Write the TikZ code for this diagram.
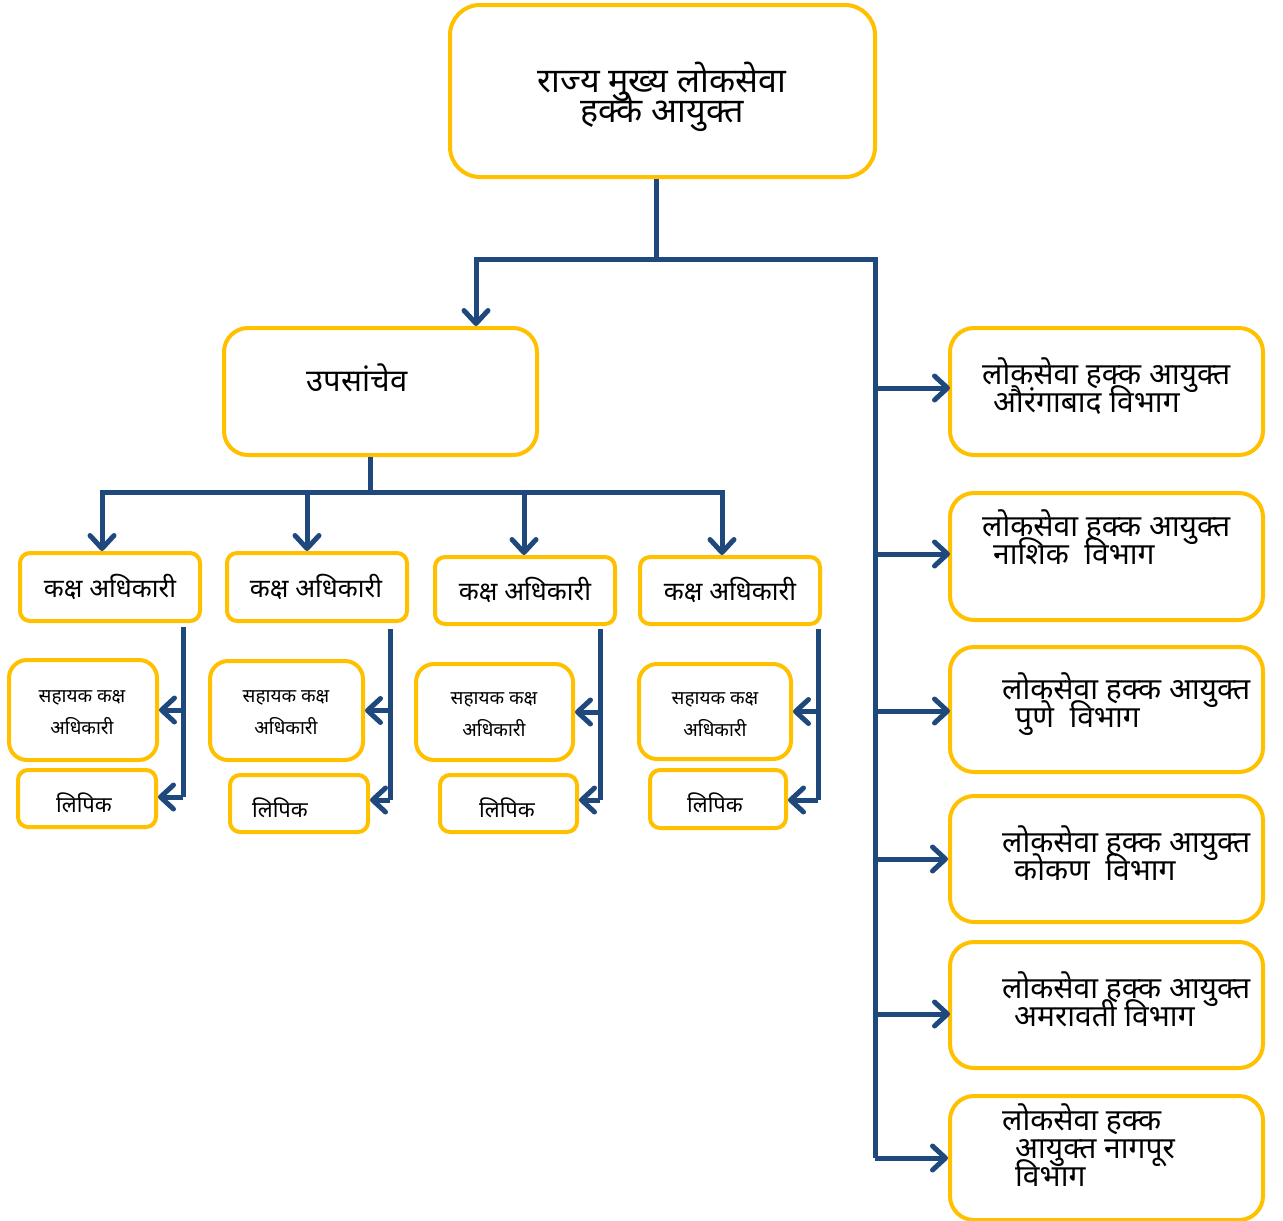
\documentclass[tikz,border=0pt]{standalone}
\usepackage{fontspec}
\usetikzlibrary{arrows.meta,fit}
\newfontfamily\dev[Script=Devanagari]{Noto Sans}
\definecolor{lnblue}{HTML}{1F497D}
\definecolor{boxy}{HTML}{FFC000}
\newcommand\devfs[2]{\dev\fontsize{#1}{#2}\selectfont\lineskiplimit=-100pt\relax}
\tikzset{
  bx/.style={draw=boxy, line width=4pt, rounded corners=#1, fill=white, inner sep=0pt},
  bx/.default=22pt,
  ln/.style={draw=lnblue, line width=5pt},
  arr/.style={ln, -{Straight Barb[length=13pt,width=24pt,round]}},
  txt/.style={inner sep=0pt, align=center, text=black},
  huge/.style={font=\devfs{34}{30}},
  big/.style={font=\devfs{30}{28}},
  ups/.style={font=\devfs{31}{30}},
  mid/.style={font=\devfs{26}{28}},
  sm/.style={font=\devfs{19}{32}},
  lp/.style={font=\devfs{22}{24}},
}
\begin{document}
\begin{tikzpicture}[x=1pt,y=-1pt]
\useasboundingbox (0,0) rectangle (1283,1221);
% boxes
\node[bx=30pt, fit={(450,5) (875,177)}] (top) {};
\node[bx=24pt, fit={(224,328) (537,455)}] (ups) {};
\node[bx=10pt, fit={(20,553) (200,621)}] (k1) {};
\node[bx=10pt, fit={(227,553) (407,621)}] (k2) {};
\node[bx=10pt, fit={(435,557) (615,624)}] (k3) {};
\node[bx=10pt, fit={(640,557) (820,624)}] (k4) {};
\node[bx=18pt, fit={(9,660) (157,760)}] (s1) {};
\node[bx=18pt, fit={(210,661) (363,760)}] (s2) {};
\node[bx=18pt, fit={(416,664) (573,760)}] (s3) {};
\node[bx=18pt, fit={(639,664) (791,759)}] (s4) {};
\node[bx=10pt, fit={(18,770) (156,827)}] (l1) {};
\node[bx=10pt, fit={(230,775) (368,832)}] (l2) {};
\node[bx=10pt, fit={(440,775) (577,832)}] (l3) {};
\node[bx=10pt, fit={(650,770) (786,828)}] (l4) {};
\node[bx=24pt, fit={(950,328) (1263,455)}] (r1) {};
\node[bx=24pt, fit={(950,493) (1263,620)}] (r2) {};
\node[bx=24pt, fit={(950,647) (1263,772)}] (r3) {};
\node[bx=24pt, fit={(950,796) (1263,922)}] (r4) {};
\node[bx=24pt, fit={(950,942) (1263,1068)}] (r5) {};
\node[bx=24pt, fit={(950,1096) (1263,1220)}] (r6) {};
% texts
\node[txt,huge] (topT) at (662,97) {राज्य मुख्य लोकसेवा\\हक्के आयुक्त};
\node[txt,ups] (upsT) at (357,378) {उपसांचेव};
\node[txt,mid] (k1T) at (110,587) {कक्ष अधिकारी};
\node[txt,mid] (k2T) at (316,587) {कक्ष अधिकारी};
\node[txt,mid] (k3T) at (525,590) {कक्ष अधिकारी};
\node[txt,mid] (k4T) at (730,590) {कक्ष अधिकारी};
\node[txt,sm] (s1T) at (82,713) {सहायक कक्ष\\अधिकारी};
\node[txt,sm] (s2T) at (286,713) {सहायक कक्ष\\अधिकारी};
\node[txt,sm] (s3T) at (494,715) {सहायक कक्ष\\अधिकारी};
\node[txt,sm] (s4T) at (715,715) {सहायक कक्ष\\अधिकारी};
\node[txt,lp] (l1T) at (84,803) {लिपिक};
\node[txt,lp] (l2T) at (280,808) {लिपिक};
\node[txt,lp] (l3T) at (507,808) {लिपिक};
\node[txt,lp] (l4T) at (715,803) {लिपिक};
\node[txt,big,align=left,anchor=west] (r1T) at (982,386) {लोकसेवा हक्क आयुक्त\\\hspace*{11pt}औरंगाबाद विभाग};
\node[txt,big,align=left,anchor=west] (r2T) at (982,537) {लोकसेवा हक्क आयुक्त\\\hspace*{11pt}नाशिक\ \ विभाग};
\node[txt,big,align=left,anchor=west] (r3T) at (1002,704) {लोकसेवा हक्क आयुक्त\\\hspace*{13pt}पुणे\ \ विभाग};
\node[txt,big,align=left,anchor=west] (r4T) at (1002,853) {लोकसेवा हक्क आयुक्त\\\hspace*{12pt}कोकण\ \ विभाग};
\node[txt,big,align=left,anchor=west] (r5T) at (1002,999) {लोकसेवा हक्क आयुक्त\\\hspace*{12pt}अमरावती विभाग};
\node[txt,big,align=left,anchor=west] (r6T) at (1002,1145) {लोकसेवा हक्क\\\hspace*{13pt}आयुक्त नागपूर\\\hspace*{13pt}विभाग};
% connectors
\coordinate (j0) at (656,259);
\coordinate (jL) at (476,259);
\coordinate (jR) at (875,259);
\coordinate (jB) at (875,1158);
\draw[ln] (j0 |- top.south) -- (j0);
\draw[arr] (j0) -- (jL) -- (jL |- ups.north);
\draw[ln] (j0) -- (jR) -- (jB);
\coordinate (r1a) at (950,388);
\coordinate (r2a) at (950,554);
\coordinate (r3a) at (950,711);
\coordinate (r5a) at (950,1014);
\draw[arr] (r1a -| jR) -- (r1a);
\draw[arr] (r2a -| jR) -- (r2a);
\draw[arr] (r3a -| jR) -- (r3a);
\draw[arr] (r4.west -| jR) -- (r4.west);
\draw[arr] (r5a -| jR) -- (r5a);
\draw[arr] (jB) -- (r6.west);
% upsachiv bus
\coordinate (u0) at (370,492);
\coordinate (uL) at (102,492);
\coordinate (uR) at (722,492);
\coordinate (ua) at (307,492);
\coordinate (ub) at (524,492);
\draw[ln] (u0 |- ups.south) -- (u0);
\draw[ln, line cap=rect] (uL) -- (uR);
\draw[arr] (uL) -- (uL |- k1.north);
\draw[arr] (ua) -- (ua |- k2.north);
\draw[arr] (ub) -- (ub |- k3.north);
\draw[arr] (uR) -- (uR |- k4.north);
% columns
\coordinate (v1) at (183,627);
\coordinate (v2) at (390,629);
\coordinate (v3) at (600,629);
\coordinate (v4) at (818,629);
\coordinate (v1b) at (183,797);
\coordinate (v2b) at (390,800);
\coordinate (v3b) at (600,800);
\coordinate (v4b) at (818,800);
\draw[ln] (v1) -- (v1b);
\draw[arr] (v1 |- s1.east) -- (s1.east);
\draw[arr] (v1b) -- (v1b -| l1.east);
\draw[ln] (v2) -- (v2b);
\draw[arr] (v2 |- s2.east) -- (s2.east);
\draw[arr] (v2b) -- (v2b -| l2.east);
\draw[ln] (v3) -- (v3b);
\draw[arr] (v3 |- s3.east) -- (s3.east);
\draw[arr] (v3b) -- (v3b -| l3.east);
\draw[ln] (v4) -- (v4b);
\draw[arr] (v4 |- s4.east) -- (s4.east);
\draw[arr] (v4b) -- (v4b -| l4.east);
\end{tikzpicture}
\end{document}
